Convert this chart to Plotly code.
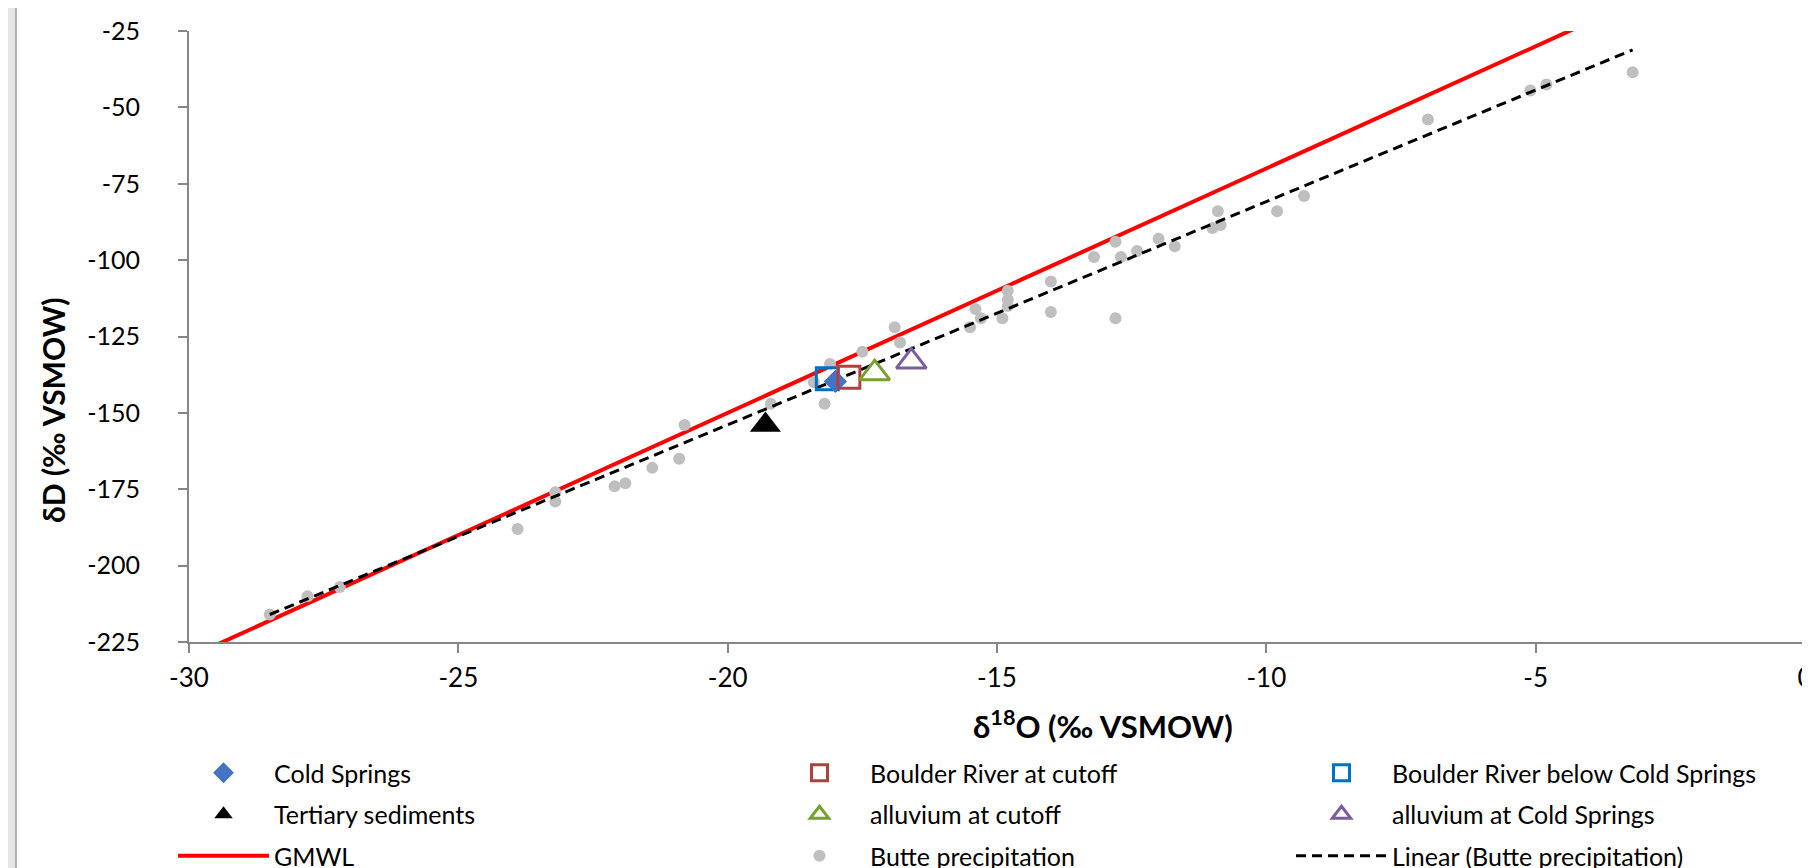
import numpy as np
import plotly.graph_objects as go

# ---- data ----
cold_springs_x = [-18.0]
cold_springs_y = [-139.7]
boulder_cutoff_x = [-17.75]
boulder_cutoff_y = [-138.3]
boulder_below_x = [-18.15]
boulder_below_y = [-138.8]
tertiary_x = [-19.3]
tertiary_y = [-154.0]
alluvium_cutoff_x = [-17.27]
alluvium_cutoff_y = [-137.0]
alluvium_cs_x = [-16.59]
alluvium_cs_y = [-133.2]

gmwl_x = [-30.0, 0.0]
gmwl_y = [-230.0, 10.0]

butte_x = [-28.5, -27.8, -27.2, -23.9, -23.2, -23.2, -22.1, -21.9, -21.4, -20.9,
           -20.8, -19.2, -18.4, -18.2, -18.1, -17.5, -16.9, -16.8, -15.5, -15.4,
           -15.3, -14.9, -14.8, -14.8, -14.8, -14.0, -14.0, -13.2, -12.8, -12.8,
           -12.7, -12.4, -12.0, -11.7, -11.0, -10.85, -10.9, -9.8, -9.3, -7.0,
           -5.1, -4.8, -3.2]
butte_y = [-216, -210, -207, -188, -176, -179, -174, -173, -168, -165,
           -154, -147, -140, -147, -134, -130, -122, -127, -122, -116,
           -119, -119, -110, -113, -115, -107, -117, -99, -94, -119,
           -99, -97, -93, -95.5, -89.5, -88.5, -84, -84, -79, -54,
           -44.5, -42.5, -38.5]

x_ticks = [-30, -25, -20, -15, -10, -5, 0]
y_ticks = [-225, -200, -175, -150, -125, -100, -75, -50, -25]

# linear trendline (least squares) through Butte precipitation
slope, intercept = np.polyfit(butte_x, butte_y, 1)
trend_x = np.array([min(butte_x), max(butte_x)])
trend_y = slope * trend_x + intercept

FONT = "Lato"
fig = go.Figure()

LW = 91  # legend item width

def add(tr, legend, rank):
    tr.legend = legend
    tr.legendrank = rank
    tr.legendgroup = tr.name
    fig.add_trace(tr)

add(go.Scatter(x=gmwl_x, y=gmwl_y, mode="lines", name="GMWL",
               line=dict(color="#FF0000", width=4)), "legend", 3)
add(go.Scatter(x=butte_x, y=butte_y, mode="markers", name="Butte precipitation",
               marker=dict(color="#BFBFBF", size=12, line=dict(width=0))), "legend2", 3)
add(go.Scatter(x=trend_x, y=trend_y, mode="lines", name="Linear (Butte precipitation)",
               line=dict(color="#000000", width=3, dash="10px,6px")), "legend3", 3)
add(go.Scatter(x=boulder_below_x, y=boulder_below_y, mode="markers",
               name="Boulder River below Cold Springs",
               marker=dict(symbol="square-open", size=22, color="#0070C0",
                           line=dict(width=3, color="#0070C0"))), "legend3", 1)
add(go.Scatter(x=cold_springs_x, y=cold_springs_y, mode="markers", name="Cold Springs",
               marker=dict(symbol="diamond", size=18, color="#4472C4",
                           line=dict(width=0))), "legend", 1)
add(go.Scatter(x=boulder_cutoff_x, y=boulder_cutoff_y, mode="markers",
               name="Boulder River at cutoff",
               marker=dict(symbol="square-open", size=22, color="#B0403C",
                           line=dict(width=3, color="#B0403C"))), "legend2", 1)
add(go.Scatter(x=tertiary_x, y=tertiary_y, mode="markers", name="Tertiary sediments",
               marker=dict(symbol="triangle-up", size=27, color="#000000",
                           line=dict(width=0))), "legend", 2)
add(go.Scatter(x=alluvium_cutoff_x, y=alluvium_cutoff_y, mode="markers",
               name="alluvium at cutoff",
               marker=dict(symbol="triangle-up-open", size=26, color="#77A030",
                           line=dict(width=3, color="#77A030"))), "legend2", 2)
add(go.Scatter(x=alluvium_cs_x, y=alluvium_cs_y, mode="markers",
               name="alluvium at Cold Springs",
               marker=dict(symbol="triangle-up-open", size=26, color="#7A5FA0",
                           line=dict(width=3, color="#7A5FA0"))), "legend3", 2)

L, R, T, B = 181, 13, 23, 234
W, H = 1810, 868
PW, PH = W - L - R, H - T - B

def px(p):
    return (p - L) / PW

def py(p):
    return (H - B - p) / PH

leg_common = dict(orientation="v", yanchor="top", xanchor="left",
                  font=dict(family=FONT, size=25, color="#000000"),
                  bgcolor="rgba(0,0,0,0)", borderwidth=0, itemwidth=LW,
                  tracegroupgap=6, traceorder="grouped")

fig.update_layout(
    width=W, height=H,
    margin=dict(l=L, r=R, t=T, b=B, autoexpand=False),
    paper_bgcolor="white", plot_bgcolor="white",
    font=dict(family=FONT, color="#000000"),
    showlegend=True,
    legend=dict(x=px(165), y=py(742), **leg_common),
    legend2=dict(x=px(761), y=py(742), **leg_common),
    legend3=dict(x=px(1283), y=py(742), **leg_common),
    xaxis=dict(range=[-30, 0], tickvals=x_ticks, ticktext=[str(v) for v in x_ticks],
               showgrid=False, zeroline=False, showline=True, linecolor="#868686",
               linewidth=2, ticks="outside", ticklen=9, tickwidth=2, tickcolor="#868686",
               tickfont=dict(family=FONT, size=26, color="#000000"),
               ticklabelstandoff=3, fixedrange=True),
    yaxis=dict(range=[-225, -25], tickvals=y_ticks, ticktext=[str(v) for v in y_ticks],
               showgrid=False, zeroline=False, showline=True, linecolor="#868686",
               linewidth=2, ticks="outside", ticklen=9, tickwidth=2, tickcolor="#868686",
               tickfont=dict(family=FONT, size=25, color="#000000"),
               ticklabelstandoff=33, fixedrange=True),
    annotations=[
        dict(text="<b>δ<sup>18</sup>O (‰ VSMOW)</b>", xref="paper", yref="paper",
             x=px(1095), y=py(716), xanchor="center", yanchor="middle", showarrow=False,
             font=dict(family=FONT, size=31, color="#000000")),
        dict(text="<b>δD (‰ VSMOW)</b>", xref="paper", yref="paper", textangle=-90,
             x=px(45), y=py(402), xanchor="center", yanchor="middle", showarrow=False,
             font=dict(family=FONT, size=30, color="#000000")),
    ],
    shapes=[
        dict(type="rect", xref="paper", yref="paper", x0=px(0), x1=px(8), y0=py(H), y1=py(0),
             fillcolor="#E6E6E6", line=dict(width=0), layer="below"),
        dict(type="line", xref="paper", yref="paper", x0=px(8), x1=px(8), y0=py(H), y1=py(0),
             line=dict(color="#9A9A9A", width=1.5)),
    ],
)

fig.write_html("out.html")
